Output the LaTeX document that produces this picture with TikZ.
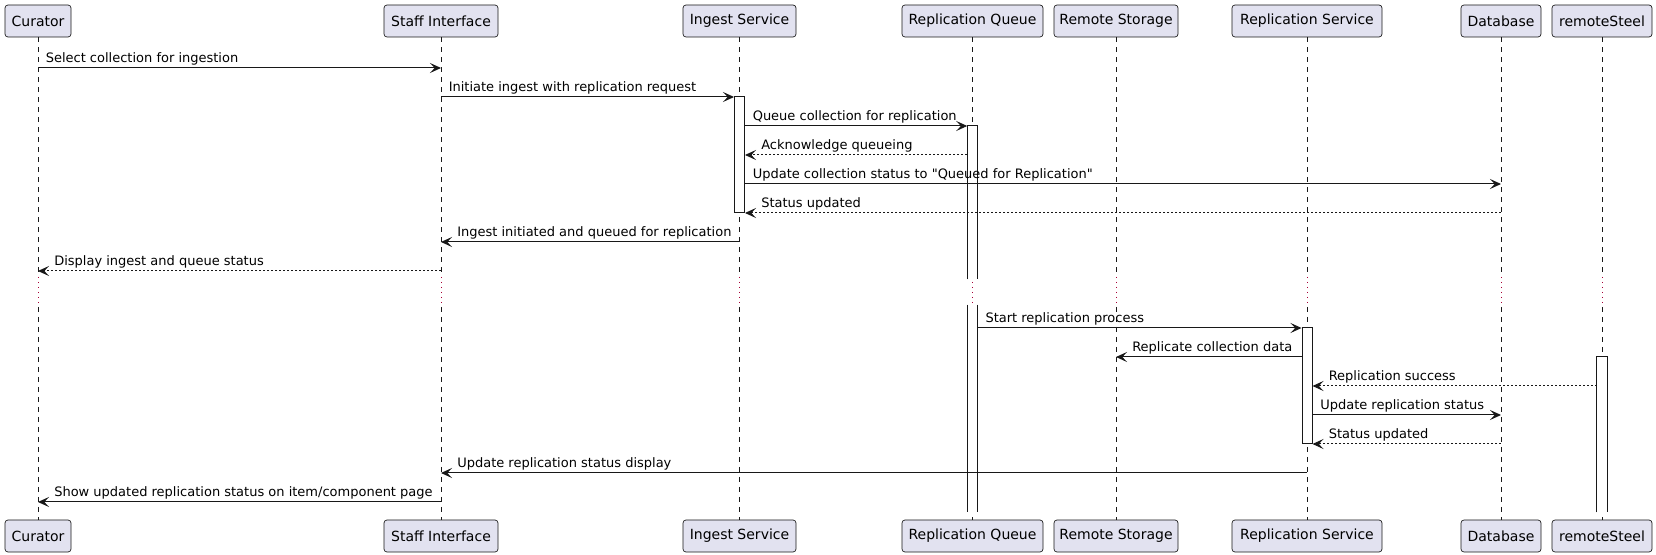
\documentclass[tikz,border=0pt]{standalone}
\usepackage{fontspec}
\setmainfont{DejaVu Sans}
\setmonofont{DejaVu Sans}
\usetikzlibrary{arrows.meta,fit}
\definecolor{boxC}{HTML}{E2E2F0}
\definecolor{lineC}{HTML}{181818}
\definecolor{delayC}{HTML}{A80036}
\tikzset{
  pbox/.style={draw=lineC, fill=boxC, rounded corners=2.25pt, line width=0.5pt,
    minimum height=24pt, inner sep=0pt, font=\fontsize{10.5}{12.6}\selectfont},
  life/.style={draw=lineC, line width=0.4pt, dash pattern=on 3.75pt off 3.75pt},
  delay/.style={draw=delayC, line width=0.6pt, dash pattern=on 0.75pt off 3pt},
  actbar/.style={draw=lineC, fill=white, line width=0.75pt, inner sep=0pt},
  msg/.style={draw=lineC, line width=0.75pt, -{Stealth[length=8.25pt,width=7.5pt,inset=3.5pt]}},
  rmsg/.style={msg, dash pattern=on 1.5pt off 1.5pt},
  lbl/.style={anchor=base west, inner sep=0pt, font=\ttfamily\fontsize{9.75}{11.7}\selectfont, text=black},
}
\begin{document}
\begin{tikzpicture}[x=0.75pt,y=-0.75pt]
\useasboundingbox (0,0) rectangle (1656,555);
% participants top
\node[pbox, minimum width=49.5pt]  (cT) at (38,21)     {Curator};
\node[pbox, minimum width=85.5pt]  (sT) at (441,21)    {Staff Interface};
\node[pbox, minimum width=84.75pt] (iT) at (739.5,21)  {Ingest Service};
\node[pbox, minimum width=105.75pt](qT) at (972.5,21)  {Replication Queue};
\node[pbox, minimum width=93pt]    (rT) at (1116,21)   {Remote Storage};
\node[pbox, minimum width=112.5pt] (eT) at (1307,21)   {Replication Service};
\node[pbox, minimum width=60pt]    (dT) at (1501,21)   {Database};
\node[pbox, minimum width=75pt]    (xT) at (1602,21)   {remoteSteel};
% participants bottom
\node[pbox, minimum width=49.5pt]  (cB) at (38,536)    {Curator};
\node[pbox, minimum width=85.5pt]  (sB) at (441,536)   {Staff Interface};
\node[pbox, minimum width=84.75pt] (iB) at (739.5,536) {Ingest Service};
\node[pbox, minimum width=105.75pt](qB) at (972.5,536) {Replication Queue};
\node[pbox, minimum width=93pt]    (rB) at (1116,536)  {Remote Storage};
\node[pbox, minimum width=112.5pt] (eB) at (1307,536)  {Replication Service};
\node[pbox, minimum width=60pt]    (dB) at (1501,536)  {Database};
\node[pbox, minimum width=75pt]    (xB) at (1602,536)  {remoteSteel};
% rows
\coordinate (d1) at (0,277);
\coordinate (d2) at (0,307);
\coordinate (m1) at (0,68);
\coordinate (m2) at (0,97);
\coordinate (m3) at (0,126);
\coordinate (m4) at (0,155);
\coordinate (m5) at (0,184);
\coordinate (m6) at (0,213);
\coordinate (m7) at (0,242);
\coordinate (m8) at (0,271);
\coordinate (m9) at (0,328);
\coordinate (m10) at (0,357);
\coordinate (m11) at (0,386);
\coordinate (m12) at (0,415);
\coordinate (m13) at (0,444);
\coordinate (m14) at (0,473);
\coordinate (m15) at (0,502);
% lifelines
\foreach \p in {c,s,i,q,r,e,d,x}{
  \draw[life] (\p T.south) -- (\p T.south |- d1);
  \draw[delay] (\p T.south |- d1) -- (\p T.south |- d2);
  \draw[life] (\p T.south |- d2) -- (\p B.north);
}
% activation bars
\node[actbar, fit={(734.5,97) (744.5,213)}] (aI) {};
\node[fill=white, inner sep=0pt, fit={(967.5,126) (977.5,279)}] (aQ1) {};
\draw[lineC, line width=0.75pt] (aQ1.south west) -- (aQ1.north west) -- (aQ1.north east) -- (aQ1.south east);
\node[fill=white, inner sep=0pt, fit={(967.5,305) (977.5,512)}] (aQ2) {};
\draw[lineC, line width=0.75pt] (aQ2.north west) -- (aQ2.south west);
\draw[lineC, line width=0.75pt] (aQ2.north east) -- (aQ2.south east);
\node[actbar, fit={(1302,328) (1312,444)}] (aR) {};
\node[fill=white, inner sep=0pt, fit={(1597,357) (1607,512)}] (aS) {};
\draw[lineC, line width=0.75pt] (aS.south west) -- (aS.north west) -- (aS.north east) -- (aS.south east);
% messages
\draw[msg] (cT |- m1) -- (sT |- m1);
\path (cT |- m1) ++(7.5,-5) node[lbl] {Select collection for ingestion};
\draw[msg] (sT |- m2) -- (aI.west |- m2);
\path (sT |- m2) ++(7.5,-5) node[lbl] {Initiate ingest with replication request};
\draw[msg] (aI.east |- m3) -- (aQ1.west |- m3);
\path (aI.east |- m3) ++(7.5,-5) node[lbl] {Queue collection for replication};
\draw[rmsg] (aQ1.west |- m4) -- (aI.east |- m4);
\path (aI.east |- m4) ++(16,-5) node[lbl] {Acknowledge queueing};
\draw[msg] (aI.east |- m5) -- (dT |- m5);
\path (aI.east |- m5) ++(7.5,-5) node[lbl] {Update collection status to "Queued for Replication"};
\draw[rmsg] (dT |- m6) -- (aI.east |- m6);
\path (aI.east |- m6) ++(16,-5) node[lbl] {Status updated};
\draw[msg] (iT |- m7) -- (sT |- m7);
\path (sT |- m7) ++(16,-5) node[lbl] {Ingest initiated and queued for replication};
\draw[rmsg] (sT |- m8) -- (cT |- m8);
\path (cT |- m8) ++(16,-5) node[lbl] {Display ingest and queue status};
\draw[msg] (aQ2.east |- m9) -- (aR.west |- m9);
\path (aQ2.east |- m9) ++(7.5,-5) node[lbl] {Start replication process};
\draw[msg] (aR.west |- m10) -- (rT |- m10);
\path (rT |- m10) ++(16,-5) node[lbl] {Replicate collection data};
\draw[rmsg] (aS.west |- m11) -- (aR.east |- m11);
\path (aR.east |- m11) ++(16,-5) node[lbl] {Replication success};
\draw[msg] (aR.east |- m12) -- (dT |- m12);
\path (aR.east |- m12) ++(7.5,-5) node[lbl] {Update replication status};
\draw[rmsg] (dT |- m13) -- (aR.east |- m13);
\path (aR.east |- m13) ++(16,-5) node[lbl] {Status updated};
\draw[msg] (eT |- m14) -- (sT |- m14);
\path (sT |- m14) ++(16,-5) node[lbl] {Update replication status display};
\draw[msg] (sT |- m15) -- (cT |- m15);
\path (cT |- m15) ++(16,-5) node[lbl] {Show updated replication status on item/component page};
\end{tikzpicture}
\end{document}
